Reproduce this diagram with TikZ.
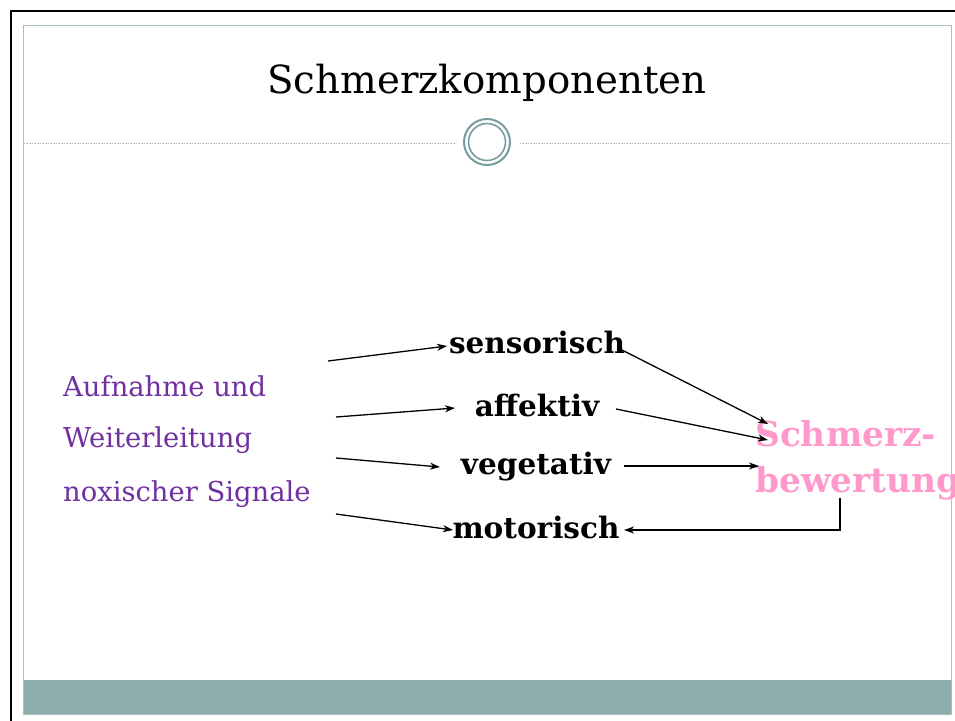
\documentclass[tikz,border=0pt]{standalone}
\usepackage{fontspec}
\setmainfont{DejaVu Serif}
\usetikzlibrary{arrows.meta}
\definecolor{frameteal}{HTML}{A9C0C0}
\definecolor{bandteal}{HTML}{8BADAD}
\definecolor{ringteal}{HTML}{789C9C}
\definecolor{sigpurple}{HTML}{7030A0}
\definecolor{evalpink}{HTML}{FF99CC}
\tikzset{
  comp/.style={font=\fontsize{29.5}{31}\selectfont\bfseries, inner sep=1pt},
  sig/.style={font=\fontsize{27.4}{29}\selectfont, text=sigpurple, anchor=west, inner sep=0pt},
  conn/.style={line width=1.3pt, -{Stealth[length=10pt,width=7pt,inset=3pt]}},
}
\begin{document}
\begin{tikzpicture}[x=1pt,y=-1pt]
  \useasboundingbox (0,0) rectangle (955,720);
  \fill[white] (0,0) rectangle (955,720);
  % outer black frame (top and left edges)
  \draw[line width=2.5pt] (11,722) -- (11,11) -- (957,11);
  % slide area
  \draw[frameteal, line width=1pt] (23.5,25.5) rectangle (951,714);
  \fill[bandteal] (24,680) rectangle (950.5,713.5);
  % title rule with ring ornament
  \draw[gray!55, line width=0.6pt, dash pattern=on 1pt off 0.6pt] (24,143) -- (455,143);
  \draw[gray!55, line width=0.6pt, dash pattern=on 1pt off 0.6pt] (520,143) -- (950,143);
  \draw[ringteal, line width=2pt, fill=white] (487,142) circle (23);
  \draw[ringteal, line width=1.6pt] (487,142) circle (18.5);
  % title
  \node (title) at (487,83) {\fontsize{38.7}{40}\selectfont Schmerzkomponenten};
  % incoming signal text
  \node[sig] (s1) at (63,386) {Aufnahme und};
  \node[sig] (s2) at (63,440) {Weiterleitung};
  \node[sig] (s3) at (63,494) {noxischer Signale};
  % pain components
  \node[comp] (sen) at (537,342) {sensorisch};
  \node[comp] (aff) at (537,405) {affektiv};
  \node[comp] (veg) at (536,467) {vegetativ};
  \node[comp] (mot) at (536,527) {motorisch};
  % pain evaluation
  \node[font=\fontsize{34.4}{46}\selectfont\bfseries, text=evalpink, align=left, anchor=west, inner sep=0pt]
    (eval) at (755,460) {Schmerz-\\bewertung};
  % connector end points
  \coordinate (in1) at (328,361);
  \coordinate (in2) at (336,417);
  \coordinate (in3) at (336,458);
  \coordinate (in4) at (336,514);
  \coordinate (t1) at (447,346);
  \coordinate (t2) at (455,408);
  \coordinate (t3) at (440,467);
  \coordinate (t4) at (453,530);
  \coordinate (o1) at (622,350);
  \coordinate (o2) at (616,409);
  \coordinate (o3) at (624,466);
  \coordinate (e1) at (768,424);
  \coordinate (e2) at (768,440);
  \coordinate (e3) at (759,466);
  \coordinate (ebot) at (840,498);
  \coordinate (corner) at (840,530);
  \coordinate (mback) at (624,530);
  % signals into the components
  \draw[conn] (in1) -- (t1);
  \draw[conn] (in2) -- (t2);
  \draw[conn] (in3) -- (t3);
  \draw[conn] (in4) -- (t4);
  % components into evaluation
  \draw[conn] (o1) -- (e1);
  \draw[conn] (o2) -- (e2);
  \draw[conn] (o3) -- (e3);
  % feedback to motor component
  \draw[conn] (ebot) -- (corner) -- (mback);
\end{tikzpicture}
\end{document}
